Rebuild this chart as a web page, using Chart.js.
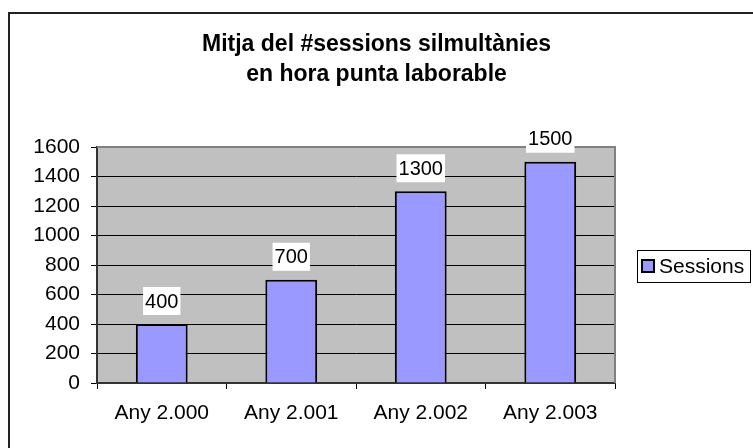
<!DOCTYPE html>
<html>
<head>
<meta charset="utf-8">
<script src="https://cdn.jsdelivr.net/npm/chart.js@4/dist/chart.umd.min.js"></script>
<style>
body{margin:0;background:#fff;}
</style>
</head>
<body>
<canvas id="bar_chart" width="753" height="448"></canvas>
<script>
var titleLines = ['Mitja del #sessions silmultànies', 'en hora punta laborable'];
var years = ['Any 2.000', 'Any 2.001', 'Any 2.002', 'Any 2.003'];
var sessions = [400, 700, 1300, 1500];
var seriesName = 'Sessions';
var yTicks = [0, 200, 400, 600, 800, 1000, 1200, 1400, 1600];

var fontName = '"Liberation Sans", Arial, sans-serif';

// fons gris, marc exterior, etiquetes i llegenda
var excelLook = {
    id: 'excelLook',
    beforeDraw: function(chart){
        var ctx = chart.ctx, a = chart.chartArea;
        ctx.save();
        ctx.fillStyle = '#fff';
        ctx.fillRect(0, 0, chart.width, chart.height);
        ctx.fillStyle = '#c0c0c0';
        ctx.fillRect(a.left, a.top, a.right - a.left, a.bottom - a.top);
        ctx.strokeStyle = '#222';
        ctx.lineWidth = 2;
        ctx.strokeRect(9, 13, chart.width + 20, chart.height + 20);
        ctx.restore();
    },
    beforeDatasetsDraw: function(chart){
        var ctx = chart.ctx, a = chart.chartArea;
        ctx.save();
        ctx.strokeStyle = '#808080';
        ctx.lineWidth = 2;
        ctx.beginPath();
        ctx.moveTo(a.left, a.top);
        ctx.lineTo(a.right, a.top);
        ctx.lineTo(a.right, a.bottom);
        ctx.stroke();
        ctx.restore();
    },
    afterDatasetsDraw: function(chart){
        var ctx = chart.ctx;
        var meta = chart.getDatasetMeta(0);
        ctx.save();
        ctx.font = '20px ' + fontName;
        meta.data.forEach(function(bar, i){
            var txt = String(chart.data.datasets[0].data[i]);
            var w = ctx.measureText(txt).width + 4;
            var h = 28;
            var bottom = bar.y - 9;
            ctx.fillStyle = '#fff';
            ctx.fillRect(bar.x - w / 2, bottom - h, w, h);
            ctx.fillStyle = '#000';
            ctx.textAlign = 'center';
            ctx.textBaseline = 'middle';
            ctx.fillText(txt, bar.x, bottom - h / 2 + 1);
        });
        ctx.restore();
    },
    afterDraw: function(chart){
        var ctx = chart.ctx, a = chart.chartArea;
        var ds = chart.data.datasets[0];
        var midY = (a.top + a.bottom) / 2 + 1;
        ctx.save();
        ctx.fillStyle = '#fff';
        ctx.fillRect(637, midY - 16, 113, 33);
        ctx.strokeStyle = '#000';
        ctx.lineWidth = 1;
        ctx.strokeRect(637.5, midY - 15.5, 113, 32);
        ctx.fillStyle = ds.backgroundColor;
        ctx.fillRect(642, midY - 6, 12, 12);
        ctx.lineWidth = 2;
        ctx.strokeRect(642, midY - 6, 12, 12);
        ctx.fillStyle = '#000';
        ctx.font = '21px ' + fontName;
        ctx.textBaseline = 'middle';
        ctx.fillText(ds.label, 659, midY + 1);
        ctx.restore();
    }
};

var sale_chart = new Chart(document.getElementById('bar_chart'), {
    type: 'bar',
    data: {
        labels: years,
        datasets: [{
            label: seriesName,
            data: sessions,
            backgroundColor: '#9999ff',
            borderColor: '#000',
            borderWidth: 2,
            barPercentage: 0.4,
            categoryPercentage: 1
        }]
    },
    options: {
        responsive: false,
        animation: false,
        layout: { padding: { top: 12, left: 0, right: 0, bottom: 0 } },
        plugins: {
            legend: { display: false },
            tooltip: { enabled: false },
            title: {
                display: true,
                text: titleLines,
                color: '#000',
                font: { family: fontName, size: 23, weight: 'bold', lineHeight: 30 / 23 },
                padding: { top: 18, bottom: 57 }
            }
        },
        scales: {
            x: {
                grid: { drawOnChartArea: false, color: '#000', tickLength: 6 },
                border: { color: '#333', width: 2 },
                ticks: { color: '#000', font: { family: fontName, size: 21 }, padding: 12 },
                afterFit: function(s){ s.height = 65; }
            },
            y: {
                min: yTicks[0],
                max: yTicks[yTicks.length - 1],
                grid: { color: '#000', tickLength: 6 },
                border: { color: '#333', width: 2 },
                ticks: {
                    stepSize: yTicks[1] - yTicks[0],
                    color: '#000',
                    font: { family: fontName, size: 21 },
                    padding: 11,
                    callback: function(v){ return String(v); }
                },
                afterFit: function(s){ s.width = 97; }
            },
            legendSpace: {
                position: 'right',
                grid: { display: false },
                border: { display: false },
                ticks: { display: false },
                afterFit: function(s){ s.width = 138; }
            }
        }
    },
    plugins: [excelLook]
});
</script>
</body>
</html>
